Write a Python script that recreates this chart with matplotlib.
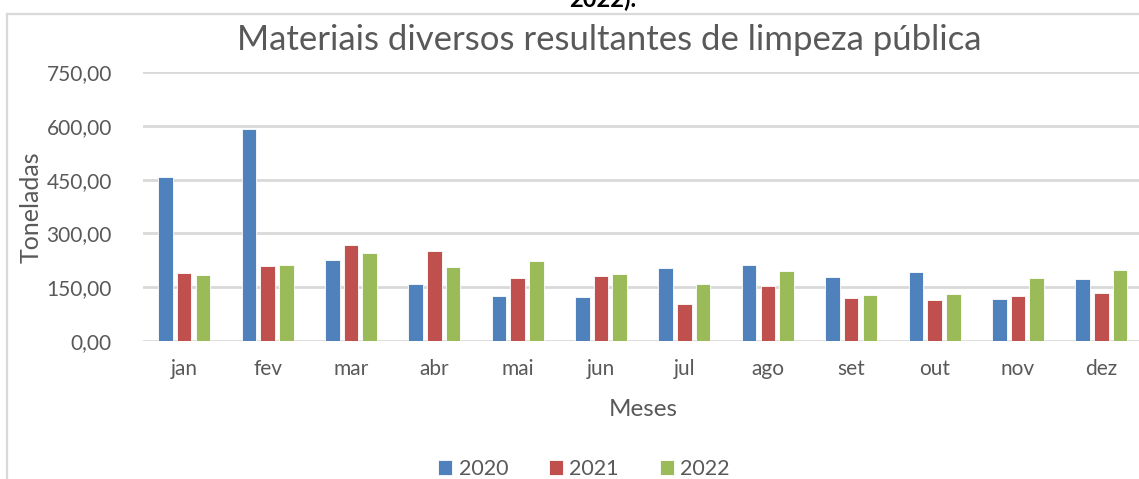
import numpy as np
import matplotlib.pyplot as plt
from matplotlib.ticker import FuncFormatter

# --- DATA (toneladas por mês) ---
meses = ['jan', 'fev', 'mar', 'abr', 'mai', 'jun', 'jul', 'ago', 'set', 'out', 'nov', 'dez']
anos = ['2020', '2021', '2022']
t2020 = [458, 591, 226, 159, 125, 122, 203, 211, 178, 191, 117, 172]
t2021 = [190, 208, 268, 250, 177, 180, 104, 152, 119, 114, 126, 133]
t2022 = [184, 211, 244, 206, 223, 187, 159, 194, 127, 130, 175, 197]
yticks = [0, 150, 300, 450, 600, 750]

# --- STYLE ---
CORES = ['#4F81BD', '#C0504D', '#9BBB59']
TXT = '#595959'
GRID = '#D9D9D9'
plt.rcParams['font.family'] = ['Lato', 'DejaVu Sans']

W, H = 1139, 479
fig = plt.figure(figsize=(W / 100, H / 100), dpi=100)

# moldura do gráfico (só a borda esquerda e o topo aparecem)
fig.add_artist(plt.Line2D([7 / W, 7 / W], [0, 1 - 14 / H], color=GRID, lw=1.6))
fig.add_artist(plt.Line2D([7 / W, 1], [1 - 14 / H, 1 - 14 / H], color=GRID, lw=1.6))

# legenda cortada do documento acima do gráfico
fig.text(603 / W, 1 - 7 / H, '2022).', ha='center', va='baseline',
         fontsize=17, fontweight='bold', color='black')

ax = fig.add_axes([142.5 / W, 1 - 341 / H, (1143 - 142.5) / W, (341 - 72) / H])

x = np.arange(len(meses))
largura = 0.175
passo = 0.224
for i, (serie, ano) in enumerate(zip([t2020, t2021, t2022], anos)):
    ax.bar(x + (i - 1) * passo, serie, width=largura, color=CORES[i],
           edgecolor='white', linewidth=0.6, label=ano, zorder=3)

ax.set_xlim(-0.5, len(meses) - 0.5)
ax.set_ylim(0, 750)
ax.set_yticks(yticks)
ax.yaxis.set_major_formatter(FuncFormatter(lambda v, p: f'{v:.2f}'.replace('.', ',')))
ax.set_xticks(x)
ax.set_xticklabels(meses)
ax.grid(axis='y', color=GRID, lw=2, zorder=0)
ax.tick_params(length=0, labelsize=15, colors=TXT)
ax.tick_params(axis='y', pad=22)
ax.tick_params(axis='x', pad=13)
for s in ax.spines.values():
    s.set_visible(False)

fig.text(609 / W, 1 - 40 / H, 'Materiais diversos resultantes de limpeza pública',
         ha='center', va='center', fontsize=25, color=TXT)
fig.text(31 / W, 1 - 207 / H, 'Toneladas', rotation=90, ha='center', va='center',
         fontsize=18, color=TXT)
fig.text(643 / W, 1 - 410 / H, 'Meses', ha='center', va='center', fontsize=17.5, color=TXT)

fig.legend(loc='center', bbox_to_anchor=(584 / W, 1 - 469 / H), ncol=3, frameon=False,
           fontsize=15.5, labelcolor=TXT, handlelength=0.65, handleheight=0.65,
           handletextpad=0.3, columnspacing=1.9)

fig.savefig('out.png', dpi=100)
